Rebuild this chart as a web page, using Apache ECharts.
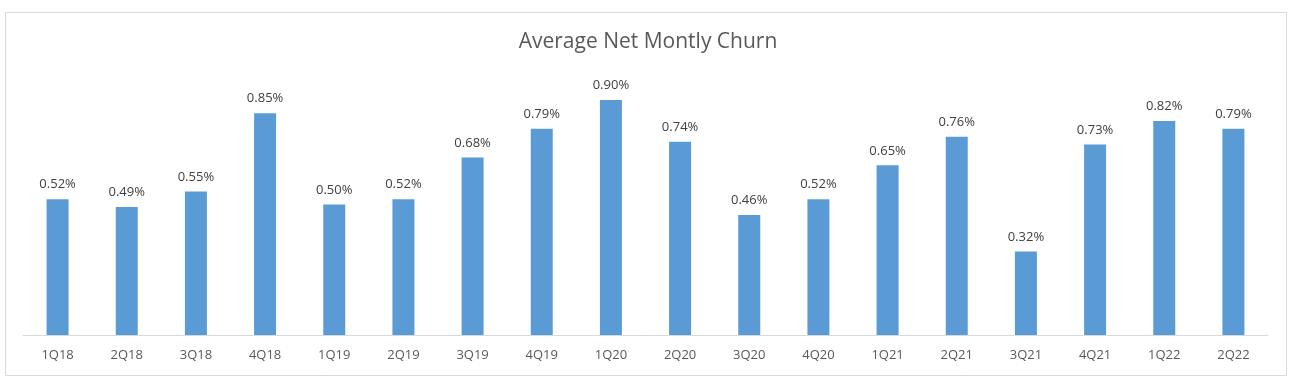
<!DOCTYPE html>
<html>
<head>
<meta charset="utf-8">
<script src="https://cdn.jsdelivr.net/npm/echarts@6/dist/echarts.min.js"></script>
<style>
html,body{margin:0;padding:0;background:#fff;}
#chart{width:1296px;height:382px;}
</style>
</head>
<body>
<div id="chart"></div>
<script>
const categories = ['1Q18','2Q18','3Q18','4Q18','1Q19','2Q19','3Q19','4Q19','1Q20','2Q20','3Q20','4Q20','1Q21','2Q21','3Q21','4Q21','1Q22','2Q22'];
const churn = [0.52,0.49,0.55,0.85,0.50,0.52,0.68,0.79,0.90,0.74,0.46,0.52,0.65,0.76,0.32,0.73,0.82,0.79];
const titleText = 'Average Net Montly Churn';

const chart = echarts.init(document.getElementById('chart'), null, {renderer:'canvas'});
chart.setOption({
  animation:false,
  backgroundColor:'#ffffff',
  title:{
    text:titleText,
    left:'center',
    top:27,
    textStyle:{fontFamily:'Open Sans',fontSize:21,fontWeight:'normal',color:'#595959'}
  },
  graphic:[{
    type:'rect',
    shape:{x:5.5,y:12.5,width:1281,height:363},
    style:{fill:'none',stroke:'#d9d9d9',lineWidth:1},
    silent:true
  }],
  grid:{left:23,right:28,top:74,bottom:47,containLabel:false},
  xAxis:{
    type:'category',
    data:categories,
    axisLine:{lineStyle:{color:'#d9d9d9'}},
    axisTick:{show:false},
    axisLabel:{color:'#595959',fontFamily:'Open Sans',fontSize:13,margin:14}
  },
  yAxis:{
    type:'value',
    min:0,max:1.0,
    show:false,
    splitLine:{show:false}
  },
  series:[{
    type:'bar',
    data:churn,
    barWidth:22,
    itemStyle:{color:'#5b9bd5'},
    label:{
      show:true,
      position:'top',
      distance:8,
      color:'#404040',
      fontFamily:'Open Sans',
      fontSize:13,
      formatter:p=>p.value.toFixed(2)+'%'
    }
  }]
});
</script>
</body>
</html>
